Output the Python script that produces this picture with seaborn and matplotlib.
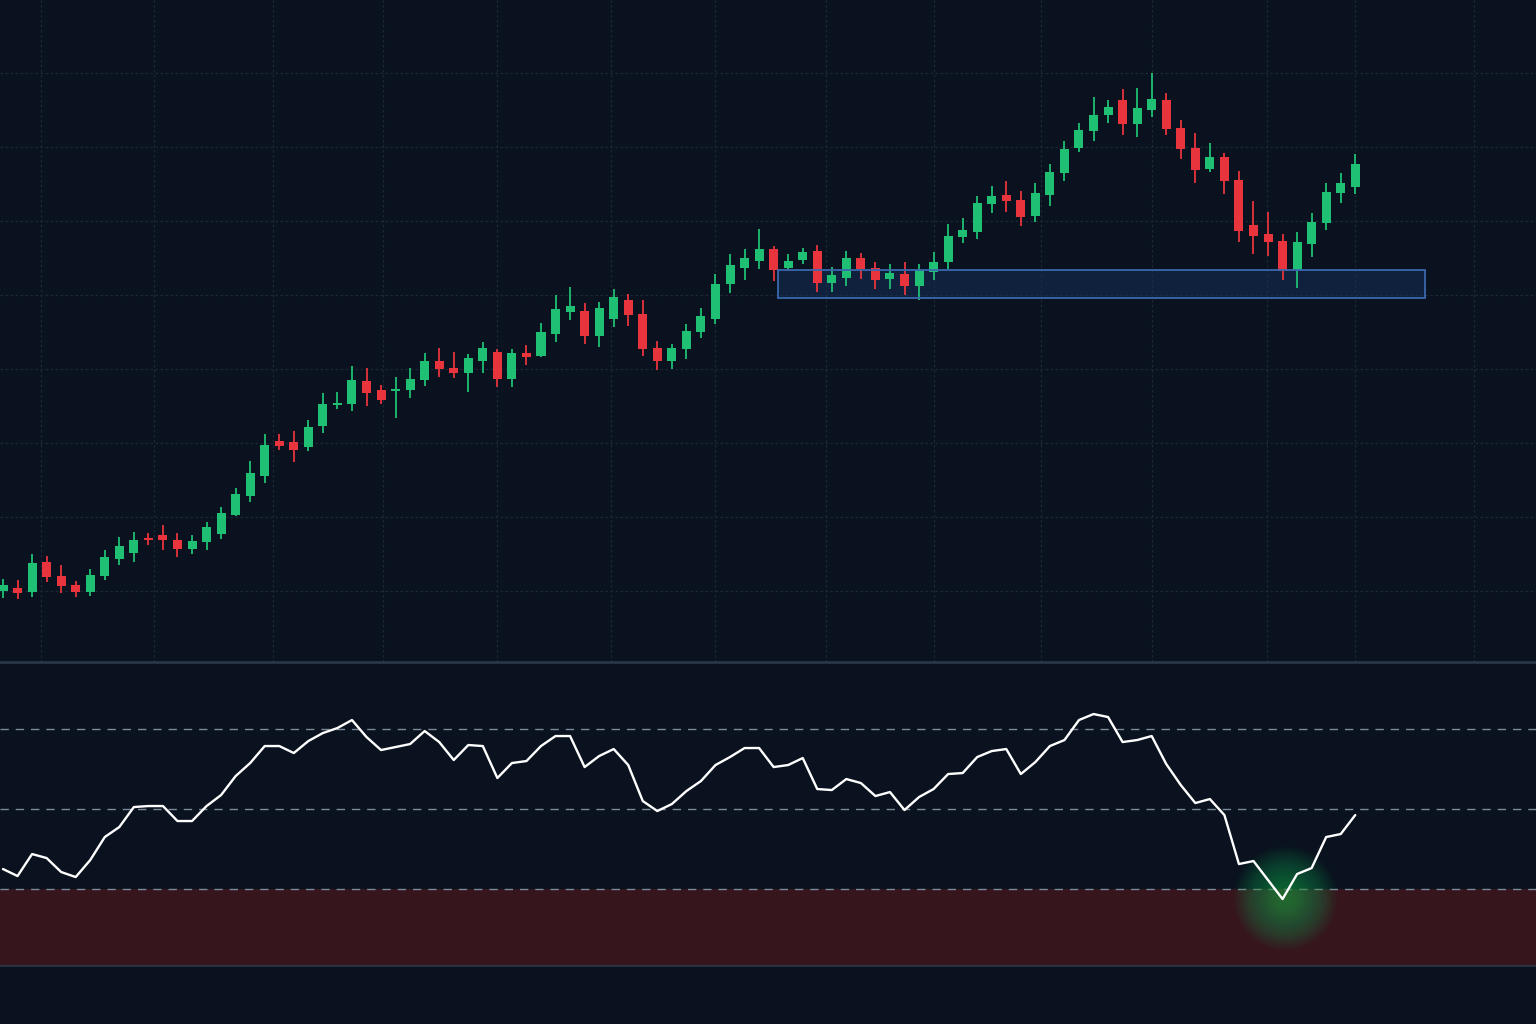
import numpy as np
import pandas as pd
import matplotlib
matplotlib.use("Agg")
import matplotlib.pyplot as plt
from matplotlib.patches import Rectangle
import seaborn as sns

# ---------------- data ----------------
opens = [100.9, 101.2, 100.8, 103.8, 102.4, 101.5, 100.8, 102.4, 104.1, 104.7,
         106.15, 106.5, 106.0, 105.1, 105.8, 106.6, 108.5, 110.4, 112.4, 115.9,
         115.8, 115.3, 117.4, 119.55, 119.6, 121.9, 121.0, 120.95, 121.0, 122.0,
         123.9, 123.2, 122.7, 123.9, 124.8, 122.1, 124.7, 124.4, 126.6, 128.8,
         128.9, 126.4, 128.1, 130.0, 128.6, 125.2, 123.9, 125.1, 126.8, 128.1,
         131.6, 133.2, 133.9, 135.1, 133.2, 134.0, 134.9, 131.7, 132.2, 134.2,
         133.2, 132.1, 132.6, 131.4, 132.8, 133.8, 136.3, 136.8, 139.6, 140.5,
         140.0, 138.4, 140.5, 142.7, 145.2, 146.9, 148.5, 150.0, 147.6, 149.0,
         150.0, 147.2, 145.2, 143.1, 144.3, 142.0, 137.5, 136.6, 135.9, 133.0,
         135.6, 137.7, 140.7, 141.3]
highs = [102.1, 102.0, 104.6, 104.4, 103.5, 101.9, 103.1, 105.0, 106.3, 106.8,
         106.7, 107.5, 106.7, 106.5, 107.8, 109.3, 111.2, 113.9, 116.6, 116.6,
         116.9, 118.0, 120.7, 120.8, 123.4, 123.2, 121.5, 122.3, 123.2, 124.7,
         125.2, 124.8, 124.6, 125.8, 125.1, 125.1, 125.5, 127.7, 130.5, 131.3,
         129.7, 129.8, 131.1, 130.6, 130.0, 125.9, 125.6, 127.6, 129.2, 132.6,
         134.6, 135.1, 137.1, 135.4, 134.6, 135.2, 135.5, 133.3, 134.9, 134.7,
         133.8, 133.6, 133.8, 133.6, 134.8, 137.6, 138.2, 140.4, 141.4, 141.9,
         140.9, 141.7, 143.6, 145.9, 147.7, 150.3, 150.0, 151.1, 151.2, 152.7,
         150.7, 148.0, 146.7, 145.7, 144.7, 142.9, 139.9, 138.8, 136.6, 136.8,
         138.7, 141.7, 142.7, 144.6]
lows = [100.2, 100.1, 100.3, 101.8, 100.7, 100.3, 100.4, 102.0, 103.5, 103.8,
        105.5, 105.0, 104.3, 104.6, 105.0, 106.1, 108.4, 109.8, 111.7, 115.0,
        113.8, 114.9, 116.7, 119.1, 118.9, 119.4, 119.6, 118.2, 120.2, 121.4,
        122.3, 122.2, 120.8, 122.7, 121.3, 121.3, 123.5, 124.3, 125.8, 128.0,
        125.6, 125.3, 127.3, 127.4, 124.4, 123.0, 123.1, 124.1, 126.2, 127.6,
        130.7, 132.0, 133.1, 131.9, 133.0, 133.6, 130.8, 130.8, 131.4, 132.1,
        131.1, 131.1, 130.5, 130.0, 132.0, 133.1, 135.7, 136.1, 138.7, 138.8,
        137.4, 137.8, 139.4, 141.9, 144.8, 145.9, 147.7, 146.5, 146.3, 148.3,
        146.5, 144.1, 141.7, 142.8, 140.6, 135.8, 134.6, 134.4, 132.0, 131.2,
        134.3, 137.0, 139.7, 140.6]
closes = [101.5, 100.7, 103.7, 102.3, 101.4, 100.8, 102.5, 104.3, 105.4, 106.0,
          106.05, 106.0, 105.1, 105.9, 107.3, 108.7, 110.6, 112.7, 115.5, 115.4,
          115.0, 117.3, 119.6, 119.65, 122.0, 120.7, 120.0, 121.05, 122.1, 123.9,
          123.1, 122.7, 124.2, 125.2, 122.1, 124.7, 124.3, 126.8, 129.1, 129.4,
          126.4, 129.2, 130.3, 128.5, 125.1, 123.9, 125.2, 126.9, 128.4, 131.6,
          133.5, 134.2, 135.1, 133.0, 133.9, 134.8, 131.7, 132.5, 134.2, 133.1,
          132.0, 132.7, 131.4, 133.0, 133.8, 136.4, 137.0, 139.7, 140.4, 139.9,
          138.3, 140.7, 142.8, 145.1, 147.0, 148.5, 149.3, 147.6, 149.2, 150.1,
          147.1, 145.1, 143.0, 144.3, 141.9, 136.9, 136.4, 135.8, 132.9, 135.8,
          137.8, 140.8, 141.7, 143.6]
rsi = [35.0, 33.25, 38.75, 37.75, 34.25, 33.0, 37.25, 43.0, 45.5, 50.5,
       50.75, 50.75, 47.0, 47.0, 50.75, 53.5, 58.25, 61.5, 65.75, 65.75,
       64.0, 67.0, 69.0, 70.25, 72.25, 68.0, 64.75, 65.5, 66.25, 69.5,
       66.75, 62.25, 66.0, 65.75, 57.75, 61.5, 62.0, 65.75, 68.25, 68.25,
       60.5, 63.25, 65.0, 61.0, 52.0, 49.5, 51.25, 54.5, 57.0, 61.0,
       63.0, 65.25, 65.25, 60.5, 61.0, 62.75, 55.0, 54.75, 57.5, 56.5,
       53.25, 54.25, 49.75, 53.0, 55.0, 58.75, 59.0, 63.0, 64.5, 65.0,
       58.75, 61.75, 65.75, 67.25, 72.25, 73.75, 73.0, 66.75, 67.25, 68.25,
       61.25, 56.0, 51.5, 52.5, 48.5, 36.25, 37.0, 32.25, 27.5, 33.75,
       35.25, 43.0, 43.75, 48.5]
rsi_levels = [70, 50, 30]
zone_start, zone_end = 53.3, 97.8      # candle index
zone_low, zone_high = 130.2, 133.0     # price
signal_index = 88

# ---------------- style ----------------
BG = "#09121e"
GREEN = "#1fbf74"
RED = "#e8343c"
GRID = "#1b2838"
SPINE = "#2a394b"
# gridline positions (candle-index units / price units)
grid_x = [2.61, 10.4, 18.6, 26.1, 34.0, 41.8, 49.0, 56.6, 64.0, 71.4,
          79.0, 86.9, 93.0, 101.2]
grid_y = [100.9, 108.3, 115.7, 123.1, 130.5, 137.9, 145.3, 152.7]

sns.set_theme(style="dark", rc={
    "axes.facecolor": BG, "figure.facecolor": BG, "savefig.facecolor": BG,
    "axes.edgecolor": SPINE, "xtick.color": BG, "ytick.color": BG,
})

df = pd.DataFrame({"i": np.arange(len(opens)), "open": opens, "high": highs,
                   "low": lows, "close": closes, "rsi": rsi})
df["up"] = df["close"] >= df["open"]
colors = np.where(df["up"], GREEN, RED)

fig = plt.figure(figsize=(15.36, 10.24), dpi=100)
XL = (-0.206, 105.43)

# ---------------- price panel ----------------
ax1 = fig.add_axes([0, 0.3535, 1, 0.6465])
ax1.set_xlim(*XL)
ax1.set_ylim(93.8, 160)
ax1.set_xticks(grid_x)
ax1.set_yticks(grid_y)
ax1.set_xticklabels([])
ax1.set_yticklabels([])
ax1.tick_params(length=0)
ax1.grid(True, color=GRID, linestyle=(0, (2, 2)), linewidth=0.9)
ax1.set_axisbelow(True)
for s in ["top", "left", "right"]:
    ax1.spines[s].set_visible(False)
ax1.spines["bottom"].set_color(SPINE)
ax1.spines["bottom"].set_linewidth(1.2)

ax1.add_patch(Rectangle((zone_start, zone_low), zone_end - zone_start,
                        zone_high - zone_low, facecolor="#16305a", alpha=0.5,
                        edgecolor="none", zorder=1))
ax1.add_patch(Rectangle((zone_start, zone_low), zone_end - zone_start,
                        zone_high - zone_low, facecolor="none",
                        edgecolor="#3a68b0", linewidth=1.3, zorder=4))

ax1.vlines(df["i"], df["low"], df["high"], colors=colors, linewidth=1.3, zorder=2)
body = (df["close"] - df["open"]).abs()
h = np.maximum(body, 0.18)
bottom = np.minimum(df["open"], df["close"]) - (h - body) / 2
ax1.bar(df["i"], h, bottom=bottom, width=0.62, color=colors, linewidth=0, zorder=3)

# ---------------- RSI panel ----------------
ax2 = fig.add_axes([0, 0.0566, 1, 0.2959])
ax2.set_xlim(*XL)
ax2.set_ylim(10.75, 86.5)
ax2.set_xticks([])
ax2.set_yticks([])
ax2.grid(False)
for s in ["left", "right"]:
    ax2.spines[s].set_visible(False)
for s in ["top", "bottom"]:
    ax2.spines[s].set_color(SPINE)
    ax2.spines[s].set_linewidth(1.2)

ax2.axhspan(10.75, rsi_levels[2], color="#36151d", zorder=0, linewidth=0)
for lv in rsi_levels:
    ax2.axhline(lv, color="#7d8a99", linewidth=1.0, dashes=(6, 5), zorder=1)

# soft glow at the oversold signal
sig_y = df["rsi"][signal_index] + 0.3
for d in np.linspace(104, 6, 40):
    ax2.scatter([signal_index + 0.2], [sig_y], s=(d * 0.72) ** 2, color="#22a653",
                alpha=0.028, linewidths=0, zorder=2)

sns.lineplot(data=df, x="i", y="rsi", ax=ax2, color="white", linewidth=1.7,
             zorder=3)
ax2.set_xlabel("")
ax2.set_ylabel("")

fig.savefig("out.png", dpi=100)
